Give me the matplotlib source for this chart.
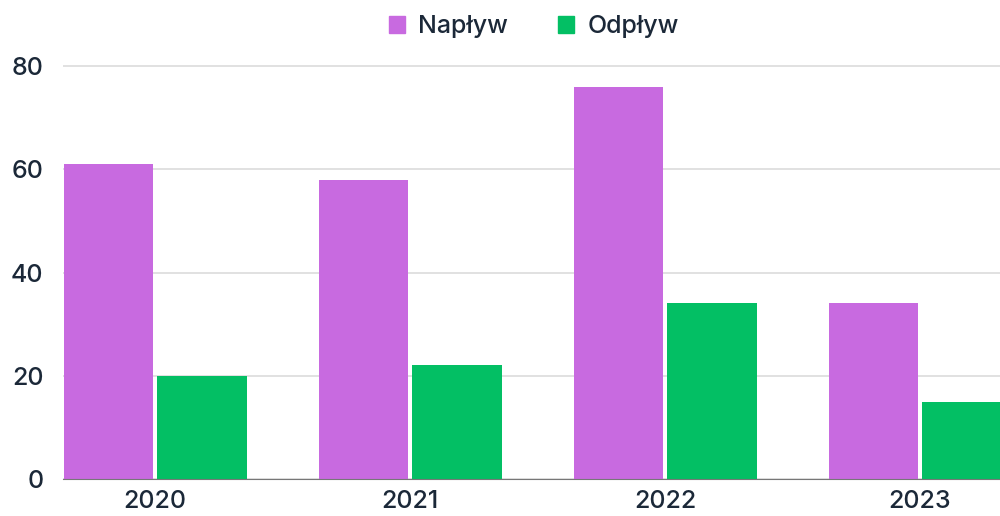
import matplotlib.pyplot as plt
from matplotlib.patches import Patch
import numpy as np

years = ["2020", "2021", "2022", "2023"]
naplyw = [61, 58, 76, 34]
odplyw = [20, 22, 34, 15]

plt.rcParams['font.family'] = ['Inter', 'DejaVu Sans']
plt.rcParams['font.weight'] = 'medium'
text_color = '#1b2838'
purple = '#c86ae0'
green = '#03bf64'

fig = plt.figure(figsize=(10, 5.16), dpi=100)
# axes runs off the right edge, like the cropped original
ax = fig.add_axes([0.063, 37 / 516, 0.937, 423.3 / 516])

x = np.arange(len(years))
w = 0.35
ax.bar(x - 0.182, naplyw, w, color=purple, zorder=3)
ax.bar(x + 0.184, odplyw, w, color=green, zorder=3)

ax.set_xlim(-0.361, 3.314)
ax.set_ylim(0, 82)
ax.set_yticks([0, 20, 40, 60, 80])
ax.set_xticks(x)
ax.set_xticklabels(years)
ax.grid(axis='y', color='#dcdcdc', linewidth=1.2, zorder=0)
for s in ['top', 'right', 'left']:
    ax.spines[s].set_visible(False)
ax.spines['bottom'].set_color('#777777')
ax.spines['bottom'].set_zorder(4)
ax.tick_params(axis='y', length=0, pad=14, labelsize=18, labelcolor=text_color)
ax.tick_params(axis='x', length=0, pad=8, labelsize=18, labelcolor=text_color)

handles = [Patch(color=purple, label='Napływ'), Patch(color=green, label='Odpływ')]
fig.legend(handles=handles, loc='center', bbox_to_anchor=(0.534, 0.948), ncol=2,
           frameon=False, fontsize=18, labelcolor=text_color, handlelength=0.62,
           handleheight=0.62, handletextpad=0.55, columnspacing=2.0)

fig.savefig('out.png', dpi=100)
